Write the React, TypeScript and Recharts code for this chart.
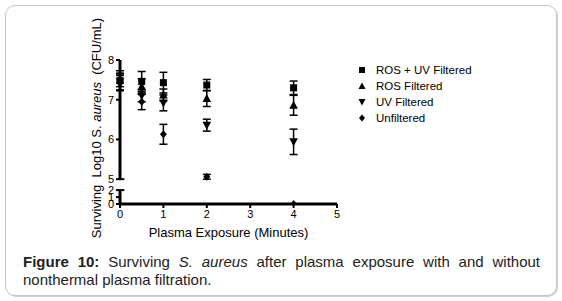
import React from 'react';
import { ScatterChart, Scatter, XAxis, YAxis, ErrorBar, ReferenceLine } from 'recharts';

// ---- data ----
const times = [0, 0.5, 1, 2, 4];
const seriesNames = ['ROS + UV Filtered', 'ROS Filtered', 'UV Filtered', 'Unfiltered'];
const rosUv = [7.48, 7.46, 7.43, 7.37, 7.30];
const rosUvErr = [0.25, 0.25, 0.26, 0.14, 0.17];
const ros = [7.5, 7.33, 7.12, 7.03, 6.86];
const rosErr = [0.17, 0.2, 0.15, 0.2, 0.25];
const uv = [7.45, 7.1, 6.92, 6.36, 5.94];
const uvErr = [0.2, 0.15, 0.2, 0.15, 0.32];
const unf = [7.42, 6.95, 6.13, 5.06, 0];
const unfErr = [0.19, 0.2, 0.25, 0.06, 0];
const xTicks = [0, 1, 2, 3, 4, 5];
const yTicksUpper = [5, 6, 7, 8];
const yTicksLower = [0, 1, 2];

// ---- broken y axis mapping (lower segment 0..2 compressed below 5) ----
const BREAK_LOW = 2;
const BREAK_HIGH = 5;
const GAP = 0.275;
const LOW_UNIT = 0.175;
const toPlot = (v: number) => (v >= BREAK_HIGH ? v : BREAK_HIGH - GAP - (BREAK_LOW - v) * LOW_UNIT);
const fromPlot = (t: number) =>
  t >= BREAK_HIGH - 1e-9 ? Math.round(t) : Math.round(BREAK_LOW - (BREAK_HIGH - GAP - t) / LOW_UNIT);
const yMin = toPlot(0);
const yTicks = [...yTicksLower.map(toPlot), ...yTicksUpper];

const build = (vals: number[], errs: number[]) =>
  times.map((t, i) => ({ x: t, y: toPlot(vals[i]), err: errs[i] }));

const dRosUv = build(rosUv, rosUvErr);
const dRos = build(ros, rosErr);
const dUv = build(uv, uvErr);
const dUnf = build(unf, unfErr);

const FONT = 'Liberation Sans, Arial, sans-serif';

// ---- marker shapes ----
const Square = (p: any) => <rect x={p.cx - 3.5} y={p.cy - 3.5} width={7} height={7} fill="#000" />;
const TriUp = (p: any) => (
  <polygon points={`${p.cx},${p.cy - 4.5} ${p.cx + 4.3},${p.cy + 3.5} ${p.cx - 4.3},${p.cy + 3.5}`} fill="#000" />
);
const TriDown = (p: any) => (
  <polygon points={`${p.cx},${p.cy + 4.5} ${p.cx + 4.3},${p.cy - 3.5} ${p.cx - 4.3},${p.cy - 3.5}`} fill="#000" />
);
const Diamond = (p: any) => (
  <polygon points={`${p.cx},${p.cy - 4} ${p.cx + 3.5},${p.cy} ${p.cx},${p.cy + 4} ${p.cx - 3.5},${p.cy}`} fill="#000" />
);
const LegSquare = (p: any) => <rect x={p.cx - 3} y={p.cy - 3} width={6} height={6} fill="#000" />;
const LegTriUp = (p: any) => (
  <polygon points={`${p.cx},${p.cy - 3.5} ${p.cx + 3.5},${p.cy + 3} ${p.cx - 3.5},${p.cy + 3}`} fill="#000" />
);
const LegTriDown = (p: any) => (
  <polygon points={`${p.cx},${p.cy + 3.5} ${p.cx + 3.5},${p.cy - 3} ${p.cx - 3.5},${p.cy - 3}`} fill="#000" />
);
const LegDiamond = (p: any) => (
  <polygon points={`${p.cx},${p.cy - 3.5} ${p.cx + 3},${p.cy} ${p.cx},${p.cy + 3.5} ${p.cx - 3},${p.cy}`} fill="#000" />
);
const legShapes = [LegSquare, LegTriUp, LegTriDown, LegDiamond];

const YLabel = () => (
  <text
    x={96}
    y={128}
    transform="rotate(-90 96 128)"
    textAnchor="middle"
    dominantBaseline="central"
    fontFamily={FONT}
    fontSize={13}
    fill="#000"
    style={{ whiteSpace: 'pre' }}
  >
    <tspan>{'Surviving  Log10 S. '}</tspan>
    <tspan fontStyle="italic">aureus</tspan>
    <tspan>{'  (CFU/mL)'}</tspan>
  </text>
);

const W = 562;
const H = 245;
const ML = 90;
const YW = 30;
const MT = 60;
const XH = 30;
const MB = 11;
const MR = 225;

export default function App() {
  return (
    <div style={{ position: 'absolute', left: 0, top: 0, width: 562, height: 301, background: '#fff' }}>
      <div
        style={{
          position: 'absolute',
          left: 5,
          top: 5,
          width: 550,
          height: 289,
          border: '1px solid #c4c4c4',
          borderRadius: 10,
          boxShadow: '1px 1px 0 #d0d0d0',
        }}
      />
      <div style={{ position: 'absolute', left: 0, top: 0 }}>
        <ScatterChart width={W} height={H} margin={{ top: MT, right: MR, bottom: MB, left: ML }}>
          <XAxis
            type="number"
            dataKey="x"
            domain={[0, 5]}
            ticks={xTicks}
            interval={0}
            height={XH}
            axisLine={{ stroke: '#000', strokeWidth: 3 }}
            tickLine={{ stroke: '#000', strokeWidth: 2 }}
            tickSize={4}
            tick={{ fill: '#000', fontSize: 11, fontFamily: FONT }}
            label={{
              value: 'Plasma Exposure (Minutes)',
              position: 'insideBottom',
              offset: -3,
              style: { fill: '#000', fontSize: 13, fontFamily: FONT },
            }}
          />
          <YAxis
            type="number"
            dataKey="y"
            domain={[yMin, 8]}
            ticks={yTicks}
            interval={0}
            width={YW}
            allowDataOverflow
            axisLine={false}
            tickLine={{ stroke: '#000', strokeWidth: 2 }}
            tickSize={4}
            tickFormatter={(t: number) => String(fromPlot(t))}
            tick={{ fill: '#000', fontSize: 11, fontFamily: FONT }}
            label={<YLabel />}
          />
          <ReferenceLine segment={[{ x: 0, y: BREAK_HIGH }, { x: 0, y: 8 }]} stroke="#000" strokeWidth={3} ifOverflow="visible" />
          <ReferenceLine segment={[{ x: 0, y: yMin }, { x: 0, y: toPlot(BREAK_LOW) }]} stroke="#000" strokeWidth={3} ifOverflow="visible" />
          <ReferenceLine segment={[{ x: 0, y: BREAK_HIGH }, { x: 0.1, y: BREAK_HIGH }]} stroke="#000" strokeWidth={2} ifOverflow="visible" />
          <ReferenceLine segment={[{ x: 0, y: toPlot(BREAK_LOW) }, { x: 0.1, y: toPlot(BREAK_LOW) }]} stroke="#000" strokeWidth={2} ifOverflow="visible" />
          <Scatter name={seriesNames[3]} data={dUnf} shape={Diamond} isAnimationActive={false}>
            <ErrorBar dataKey="err" direction="y" width={4} stroke="#000" strokeWidth={1.5} />
          </Scatter>
          <Scatter name={seriesNames[2]} data={dUv} shape={TriDown} isAnimationActive={false}>
            <ErrorBar dataKey="err" direction="y" width={4} stroke="#000" strokeWidth={1.5} />
          </Scatter>
          <Scatter name={seriesNames[1]} data={dRos} shape={TriUp} isAnimationActive={false}>
            <ErrorBar dataKey="err" direction="y" width={4} stroke="#000" strokeWidth={1.5} />
          </Scatter>
          <Scatter name={seriesNames[0]} data={dRosUv} shape={Square} isAnimationActive={false}>
            <ErrorBar dataKey="err" direction="y" width={4} stroke="#000" strokeWidth={1.5} />
          </Scatter>
        </ScatterChart>
      </div>
      <div style={{ position: 'absolute', left: 355, top: 62, fontFamily: FONT, fontSize: 11.5, color: '#000' }}>
        {seriesNames.map((n, i) => {
          const S = legShapes[i];
          return (
            <div key={n} style={{ display: 'flex', alignItems: 'center', height: 16 }}>
              <svg width={14} height={12} style={{ marginRight: 7 }}>
                <S cx={7} cy={6} />
              </svg>
              <span>{n}</span>
            </div>
          );
        })}
      </div>
      <div
        style={{
          position: 'absolute',
          left: 23,
          top: 253,
          width: 517,
          fontFamily: FONT,
          fontSize: 15,
          lineHeight: '18px',
          color: '#222',
        }}
      >
        <div style={{ textAlign: 'justify', textAlignLast: 'justify', whiteSpace: 'nowrap' as any }}>
          <span style={{ whiteSpace: 'normal' }}>
            <b>Figure 10:</b> Surviving <i>S. aureus</i> after plasma exposure with and without
          </span>
        </div>
        <div>nonthermal plasma filtration.</div>
      </div>
    </div>
  );
}
